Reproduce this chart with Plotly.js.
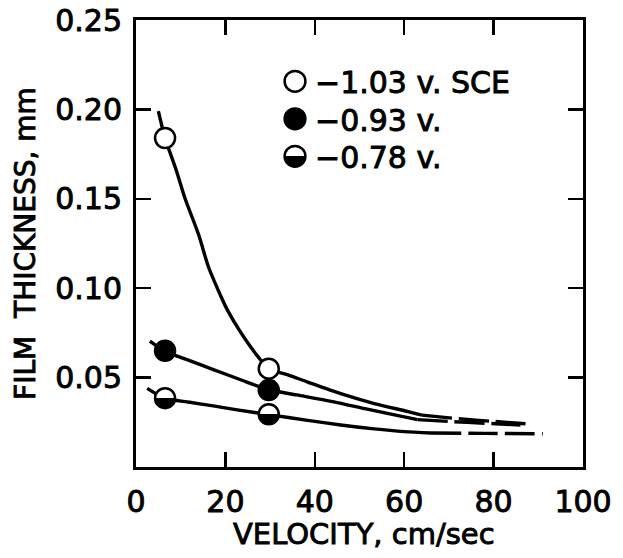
<!DOCTYPE html>
<html>
<head>
<meta charset="utf-8">
<script src="https://cdn.plot.ly/plotly-3.0.1.min.js"></script>
<style>
html,body{margin:0;padding:0;background:#ffffff;}
#chart{width:623px;height:558px;}
/* the original lettering is heavier than a regular face */
#chart svg text{stroke:#000;stroke-width:0.9px;paint-order:stroke;}
</style>
</head>
<body>
<div id="chart"></div>
<script>
// ---- measured points (velocity, cm/sec  ->  film thickness, mm) ----
const markerVelocity = [6.5, 29.7];
const thick103 = [0.184, 0.055];
const thick093 = [0.065, 0.043];
const thick078 = [0.0385, 0.0295];

const seriesNames = ['\u22121.03 v. SCE', '\u22120.93 v.', '\u22120.78 v.'];
const xTitle = 'VELOCITY, cm/sec';
const yTitle = 'FILM  THICKNESS, mm';

// ---- hand-drawn fitted curves ----
const curve103SolidX = [5.0, 6.5, 9.0, 11.0, 14.0, 16.2, 18.9, 20.4, 23.5, 27.2, 29.7, 34.0, 38.4, 45.8, 53.3, 60.9, 64.0];
const curve103SolidY = [0.199, 0.184, 0.166, 0.150, 0.130, 0.112, 0.096, 0.088, 0.075, 0.062, 0.055, 0.0515, 0.0475, 0.041, 0.0355, 0.031, 0.029];
const curve103DashX = [64, 72, 80, 88];
const curve103DashY = [0.029, 0.027, 0.0255, 0.024];

const curve093SolidX = [3.1, 6.5, 12.0, 17.3, 23.4, 29.7, 36.0, 44.0, 52.0, 60.0, 63.0];
const curve093SolidY = [0.0704, 0.0648, 0.0595, 0.0545, 0.0488, 0.0432, 0.0403, 0.0366, 0.0322, 0.028, 0.0265];
const curve093DashX = [63, 70, 78, 86];
const curve093DashY = [0.0265, 0.0255, 0.0245, 0.0235];

const curve078SolidX = [2.5, 6.5, 12.0, 17.3, 23.0, 29.7, 38.4, 45.8, 53.3, 60.0, 66.0];
const curve078SolidY = [0.044, 0.0385, 0.0362, 0.0342, 0.0318, 0.0293, 0.0261, 0.0235, 0.0213, 0.0198, 0.019];
const curve078DashX = [66, 78, 91];
const curve078DashY = [0.019, 0.0188, 0.0186];

const xTicks = [0, 20, 40, 60, 80, 100];
const yTicks = [0.05, 0.10, 0.15, 0.20, 0.25];

const FONT = 'DejaVu Sans, sans-serif';

function curve(x, y, dashed) {
  return {
    x: x, y: y, type: 'scatter', mode: 'lines', showlegend: false, hoverinfo: 'skip',
    line: {color: '#000', width: 3.4, shape: 'spline', smoothing: 0.8, dash: dashed ? '30px,7px' : 'solid'}
  };
}

const markerLine = {color: '#000', width: 2.5};
const traces = [
  curve(curve103SolidX, curve103SolidY, false),
  curve(curve103DashX, curve103DashY, true),
  curve(curve093SolidX, curve093SolidY, false),
  curve(curve093DashX, curve093DashY, true),
  curve(curve078SolidX, curve078SolidY, false),
  curve(curve078DashX, curve078DashY, true),
  {x: markerVelocity, y: thick103, name: seriesNames[0], type: 'scatter', mode: 'markers',
   marker: {symbol: 'circle', size: 20, color: '#fff', line: markerLine}},
  {x: markerVelocity, y: thick093, name: seriesNames[1], type: 'scatter', mode: 'markers',
   marker: {symbol: 'circle', size: 20, color: '#000', line: markerLine}},
  {x: markerVelocity, y: thick078, name: seriesNames[2], type: 'scatter', mode: 'markers',
   marker: {symbol: 'circle', size: 20, color: '#fff', gradient: {type: 'vertical', color: '#000'}, line: markerLine}}
];

const axisCommon = {
  showline: true, linecolor: '#000', linewidth: 3, mirror: 'ticks',
  ticks: 'inside', ticklen: 15, tickwidth: 2.5, tickcolor: '#000',
  showgrid: false, zeroline: false,
  tickfont: {family: FONT, size: 30, color: '#000'}
};

const layout = {
  width: 623, height: 558,
  margin: {l: 136, r: 40, t: 20, b: 91},
  paper_bgcolor: '#fff', plot_bgcolor: '#fff',
  font: {family: FONT, color: '#000'},
  xaxis: Object.assign({}, axisCommon, {
    range: [0, 100], tickvals: xTicks, ticklabelstandoff: 6
  }),
  yaxis: Object.assign({}, axisCommon, {
    range: [0, 0.25], tickvals: yTicks, tickformat: '.2f', ticklabelstandoff: 5,
    title: {text: yTitle, font: {family: FONT, size: 28, color: '#000'}, standoff: 12}
  }),
  annotations: [{
    text: xTitle, xref: 'paper', yref: 'paper', x: 0.51, y: -0.151,
    xanchor: 'center', yanchor: 'middle', showarrow: false,
    font: {family: FONT, size: 29, color: '#000'}
  }],
  showlegend: true,
  legend: {
    x: 0.311, y: 0.921, xanchor: 'left', yanchor: 'top',
    bgcolor: 'rgba(0,0,0,0)', borderwidth: 0,
    font: {family: FONT, size: 30, color: '#000'},
    itemsizing: 'trace', tracegroupgap: 0
  }
};

Plotly.newPlot('chart', traces, layout, {staticPlot: true, displayModeBar: false}).then(function () {
  // make the vertical white->black marker gradient a sharp half/half split
  document.querySelectorAll('#chart linearGradient').forEach(function (g) {
    const stops = g.querySelectorAll('stop');
    if (stops.length < 2) return;
    const c0 = stops[0].getAttribute('stop-color');
    const c1 = stops[stops.length - 1].getAttribute('stop-color');
    while (g.firstChild) g.removeChild(g.firstChild);
    [[0, c0], [0.5, c0], [0.5, c1], [1, c1]].forEach(function (s) {
      const st = document.createElementNS('http://www.w3.org/2000/svg', 'stop');
      st.setAttribute('offset', s[0]);
      st.setAttribute('stop-color', s[1]);
      g.appendChild(st);
    });
  });
  // legend symbols are capped at 16px by Plotly; enlarge them to match the figure
  document.querySelectorAll('#chart .legend path.scatterpts').forEach(function (p) {
    const t = p.getAttribute('transform') || '';
    p.setAttribute('transform', t + ' scale(1.3)');
    p.style.strokeWidth = (2.5 / 1.3) + 'px';
  });
  // tighten legend row spacing to the figure's ~37.5 px
  const rows = document.querySelectorAll('#chart .legend .traces');
  let y0 = null;
  rows.forEach(function (r, i) {
    const m = /translate\(\s*([-\d.]+)[ ,]+([-\d.]+)\s*\)/.exec(r.getAttribute('transform') || '');
    if (!m) return;
    if (y0 === null) y0 = parseFloat(m[2]);
    r.setAttribute('transform', 'translate(' + m[1] + ',' + (y0 + i * 37.5) + ')');
  });
});
</script>
</body>
</html>
